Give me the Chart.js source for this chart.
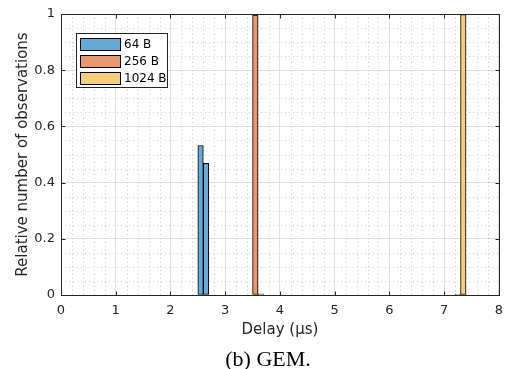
<!DOCTYPE html>
<html>
<head>
<meta charset="utf-8">
<script src="https://cdn.jsdelivr.net/npm/chart.js@4/dist/chart.umd.min.js"></script>
<style>
html,body{margin:0;padding:0;background:#fff;}
#wrap{width:511px;height:369px;}
</style>
</head>
<body>
<div id="wrap"><canvas id="c" width="511" height="369"></canvas></div>
<script>
// Data (bin width 0.1 µs)
const seriesLabels = ['64 B', '256 B', '1024 B'];
const bins64 = [2.55, 2.65];
const values64 = [0.532, 0.469];
const bins256 = [3.55, 3.65];
const values256 = [0.996, 0.004];
const bins1024 = [7.25, 7.35];
const values1024 = [0.002, 0.998];
const xTicks = [0, 1, 2, 3, 4, 5, 6, 7, 8];
const yTicks = [0, 0.2, 0.4, 0.6, 0.8, 1];
const yTickLabels = ['0', '0.2', '0.4', '0.6', '0.8', '1'];
const captionText = '(b) GEM.';

const fillColors = ['#66aad7', '#e8986f', '#f4d079'];
const AXIS = '#262626';

function pts(xs, ys) { return xs.map((x, i) => ({x: x, y: ys[i]})); }

const frameAndMinor = {
  id: 'frameAndMinor',
  beforeDatasetsDraw(chart) {
    const {ctx, chartArea: a, scales: {x, y}} = chart;
    ctx.save();
    ctx.strokeStyle = '#cccccc';
    ctx.lineWidth = 1;
    ctx.setLineDash([1, 3]);
    for (let k = 1; k < 40; k++) {
      if (k % 5 === 0) continue;
      const px = Math.round(x.getPixelForValue(k * 0.2)) + 0.5;
      ctx.beginPath(); ctx.moveTo(px, a.top); ctx.lineTo(px, a.bottom); ctx.stroke();
    }
    for (let k = 1; k < 20; k++) {
      if (k % 4 === 0) continue;
      const py = Math.round(y.getPixelForValue(k * 0.05)) + 0.5;
      ctx.beginPath(); ctx.moveTo(a.left, py); ctx.lineTo(a.right, py); ctx.stroke();
    }
    ctx.restore();
  },
  afterDatasetsDraw(chart) {
    const {ctx, chartArea: a, scales: {x, y}} = chart;
    ctx.save();
    ctx.strokeStyle = AXIS;
    ctx.lineWidth = 1;
    const L = Math.round(a.left) + 0.5, R = Math.round(a.right) + 0.5;
    const T = Math.round(a.top) + 0.5, B = Math.round(a.bottom) + 0.5;
    ctx.strokeRect(L, T, R - L, B - T);
    const tl = 4;
    xTicks.forEach(v => {
      const px = Math.round(x.getPixelForValue(v)) + 0.5;
      ctx.beginPath(); ctx.moveTo(px, B); ctx.lineTo(px, B - tl); ctx.stroke();
      ctx.beginPath(); ctx.moveTo(px, T); ctx.lineTo(px, T + tl); ctx.stroke();
    });
    yTicks.forEach(v => {
      const py = Math.round(y.getPixelForValue(v)) + 0.5;
      ctx.beginPath(); ctx.moveTo(L, py); ctx.lineTo(L + tl, py); ctx.stroke();
      ctx.beginPath(); ctx.moveTo(R, py); ctx.lineTo(R - tl, py); ctx.stroke();
    });
    // legend box
    const lx = a.left + 15, ly = a.top + 19, lw = 91, lh = 54;
    ctx.fillStyle = '#ffffff';
    ctx.fillRect(lx + 0.5, ly + 0.5, lw, lh);
    ctx.strokeStyle = AXIS;
    ctx.strokeRect(lx + 0.5, ly + 0.5, lw, lh);
    ctx.font = '12px "DejaVu Sans"';
    ctx.textBaseline = 'middle';
    ctx.textAlign = 'left';
    chart.data.datasets.forEach((ds, i) => {
      const cy = ly + 11.5 + i * 17;
      ctx.fillStyle = ds.backgroundColor;
      ctx.fillRect(lx + 4.5, cy - 6, 40, 12);
      ctx.strokeStyle = '#000';
      ctx.strokeRect(lx + 4.5, cy - 6, 40, 12);
      ctx.fillStyle = '#000';
      ctx.fillText(ds.label, lx + 48, cy + 0.5);
    });
    // figure caption
    ctx.font = '22px "Liberation Serif", "Times New Roman", serif';
    ctx.textAlign = 'center';
    ctx.textBaseline = 'alphabetic';
    ctx.fillStyle = '#000';
    ctx.fillText(captionText, 268, 366);
    ctx.restore();
  }
};

const mk = (i, xs, ys) => ({
  label: seriesLabels[i],
  data: pts(xs, ys),
  backgroundColor: fillColors[i],
  borderColor: '#000',
  borderWidth: 1,
  borderSkipped: false,
  grouped: false,
  barPercentage: 1,
  categoryPercentage: 1
});

new Chart(document.getElementById('c'), {
  type: 'bar',
  data: {
    datasets: [mk(0, bins64, values64), mk(1, bins256, values256), mk(2, bins1024, values1024)]
  },
  options: {
    responsive: false,
    animation: false,
    layout: {padding: {top: 14, right: 9, left: 0, bottom: 0}},
    plugins: {
      legend: {display: false},
      tooltip: {enabled: false},
      title: {display: false}
    },
    scales: {
      x: {
        type: 'linear',
        min: 0, max: 8,
        offset: false,
        afterBuildTicks: s => { s.ticks = xTicks.map(v => ({value: v})); },
        afterFit: s => { s.height = 74; },
        grid: {offset: false, color: '#e0e0e0', drawTicks: false},
        border: {display: false},
        ticks: {color: AXIS, padding: 8, font: {family: '"DejaVu Sans"', size: 13}, maxRotation: 0},
        title: {display: true, text: 'Delay (μs)', color: AXIS, font: {family: '"DejaVu Sans"', size: 15}, padding: {top: 0, bottom: 30}}
      },
      y: {
        min: 0, max: 1,
        afterBuildTicks: s => { s.ticks = yTicks.map(v => ({value: v})); },
        afterFit: s => { s.width = 61; },
        grid: {color: '#e0e0e0', drawTicks: false},
        border: {display: false},
        ticks: {
          color: AXIS, padding: 6, font: {family: '"DejaVu Sans"', size: 13},
          callback: (v, i) => yTickLabels[i]
        },
        title: {display: true, text: 'Relative number of observations', color: AXIS, font: {family: '"DejaVu Sans"', size: 15}, padding: {top: 14, bottom: 0}}
      }
    }
  },
  plugins: [frameAndMinor]
});
</script>
</body>
</html>
